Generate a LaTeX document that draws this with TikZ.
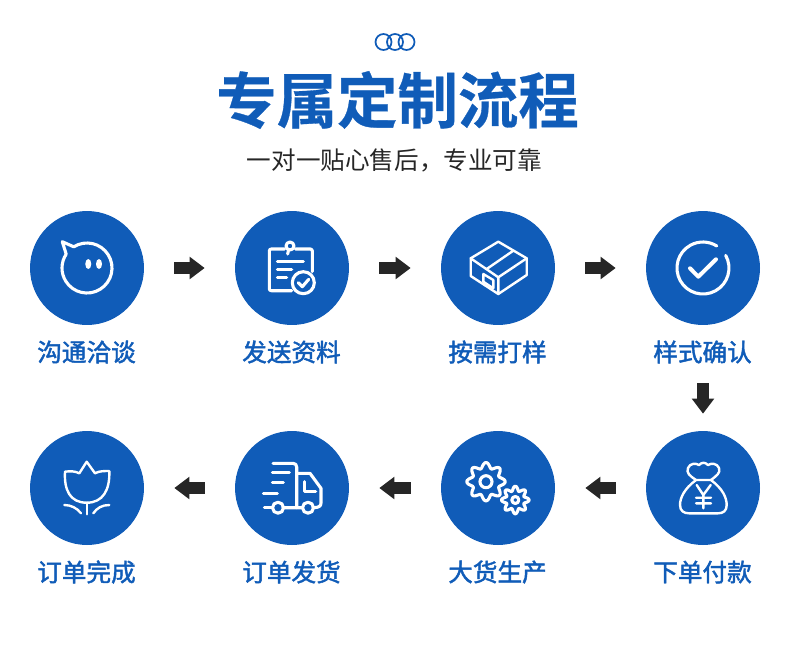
\documentclass[tikz,border=0pt]{standalone}
\usepackage{fontspec}
\usepackage{xcolor}
\usetikzlibrary{arrows.meta}
\setmainfont{Noto Sans CJK SC}
\newfontfamily\headfont[FakeBold=0.5]{Noto Sans CJK SC Bold}
\newfontfamily\labelfont[FakeBold=1.8]{Noto Sans CJK SC}
\definecolor{flowblue}{RGB}{16,92,184}
\definecolor{flowdark}{RGB}{38,38,38}

\begin{document}
\begin{tikzpicture}[
  x=0.02cm,y=-0.02cm,
  stepdisc/.style={circle,fill=flowblue,inner sep=0pt,minimum size=2.28cm},
  steplabel/.style={text=flowblue,font=\fontsize{14}{14}\selectfont\labelfont,inner sep=0pt},
  flowline/.style={draw=flowdark,line width=0.24cm,-{Triangle[length=0.3cm,width=0.43cm]},shorten <=0.6cm,shorten >=0.6cm},
  icon/.style={draw=white,line width=0.062cm,line cap=round,line join=round},
  thinicon/.style={icon,line width=0.048cm}
]
  \useasboundingbox (0,0) rectangle (790,656);

  \draw[draw=flowblue,line width=0.035cm] (383.5,42) circle (8) (395,42) circle (8) (406.5,42) circle (8);
  \node[text=flowblue,inner sep=0pt,font=\fontsize{34.4}{34}\selectfont\headfont] (title) at (397.5,100) {专属定制流程};
  \node[text=flowdark,inner sep=0pt,font=\fontsize{14}{14}\selectfont] (subtitle) at (394.5,160) {一对一贴心售后，专业可靠};

  \node[stepdisc] (s1) at (87,268) {};
  \node[stepdisc] (s2) at (292,268) {};
  \node[stepdisc] (s3) at (498,268) {};
  \node[stepdisc] (s4) at (703,268) {};
  \node[stepdisc] (s5) at (703,488) {};
  \node[stepdisc] (s6) at (498,488) {};
  \node[stepdisc] (s7) at (292,488) {};
  \node[stepdisc] (s8) at (87,488) {};

  \node[steplabel] (l1) at (86.5,352) {沟通洽谈};
  \node[steplabel] (l2) at (291.5,352) {发送资料};
  \node[steplabel] (l3) at (497.5,352) {按需打样};
  \node[steplabel] (l4) at (702.5,352) {样式确认};
  \node[steplabel] (l5) at (702.5,572) {下单付款};
  \node[steplabel] (l6) at (497.5,572) {大货生产};
  \node[steplabel] (l7) at (291.5,572) {订单发货};
  \node[steplabel] (l8) at (86.5,572) {订单完成};

  \draw[flowline] (s1) -- (s2);
  \draw[flowline] (s2) -- (s3);
  \draw[flowline] (s3) -- (s4);
  \draw[flowline,shorten <=1.16cm,shorten >=0.34cm] (s4) -- (s5);
  \draw[flowline] (s5) -- (s6);
  \draw[flowline] (s6) -- (s7);
  \draw[flowline] (s7) -- (s8);

  \draw[icon] (66.2,254.1) -- (62.3,241.7) -- (73.75,246.8) arc[start angle=-122,end angle=213.7,radius=25];
  \fill[white] (88.3,264) ellipse (3 and 5) (99,264) ellipse (3 and 5);

  \draw[icon,rounded corners=0.04cm] (284.5,249) -- (269.3,249) -- (269.3,290.7) -- (291.7,290.7);
  \draw[icon,rounded corners=0.04cm] (295.5,249) -- (312.3,249) -- (312.3,271.5);
  \draw[icon] (290,246) circle (4) (288.5,250) -- (287.7,254);
  \draw[icon] (277.3,261.7) -- (303.3,261.7) (277.3,269.3) -- (291.7,269.3) (277.3,277.3) -- (286.7,277.3);
  \draw[icon] (303.3,282.7) circle (11);
  \draw[icon] (298.3,282.7) -- (302.3,286.7) -- (308.7,279.3);

  \draw[thinicon] (498.3,241.7) -- (526.7,258.3) -- (526.7,275) -- (498.3,294) -- (470.7,276) -- (470.7,258.3) -- cycle;
  \draw[thinicon] (470.7,258.3) -- (498.3,277.3) -- (526.7,258.3) (498.3,277.3) -- (498.3,294);
  \draw[thinicon] (486.7,269) -- (513.3,250.7);
  \draw[thinicon] (483.3,274) -- (493.3,280) -- (493.3,288.3) -- (483.3,281.7) -- cycle;

  \draw[icon] (725.7,255.4) arc[start angle=-29,end angle=302,radius=26];
  \draw[icon,line width=0.08cm] (690,268.3) -- (698.3,276.7) -- (716,259.3);

  \draw[thinicon] (696,480) .. controls (684,489) and (680,498) .. (680,505) .. controls (680,511) and (684,513.3) .. (689,513.3) -- (718,513.3) .. controls (723,513.3) and (726.7,511) .. (726.7,505) .. controls (726.7,498) and (723,489) .. (711,480) -- cycle;
  \draw[thinicon] (696,480) .. controls (690,476) and (686,473) .. (688,468) .. controls (690,463) and (696,463) .. (699,465) .. controls (702,462) and (705,462) .. (708,465) .. controls (711,463) and (717,463) .. (719,468) .. controls (721,473) and (716,476) .. (711,480);
  \draw[thinicon] (696.7,485) -- (703.3,495) -- (710.7,485) (703.3,495) -- (703.3,508.3) (696,497.7) -- (711,497.7) (696,503.3) -- (711,503.3);

  \draw[icon] plot[domain=0:360,samples=97] ({486+(16.5+2.7*cos(8*\x))*cos(\x)},{481.7+(16.5+2.7*cos(8*\x))*sin(\x)});
  \draw[icon] (486,481.7) circle (6);
  \draw[icon,fill=flowblue] plot[domain=15:375,samples=97] ({515.3+(11.5+2.3*cos(8*\x))*cos(\x)},{500+(11.5+2.3*cos(8*\x))*sin(\x)});
  \draw[icon] (515.3,500) circle (3.5);

  \draw[icon] (273,463.3) -- (293,463.3) .. controls (295.5,463.3) and (296.7,465) .. (296.7,467) -- (296.7,507.7) -- (283,507.7);
  \draw[icon] (296.7,473.3) -- (310,473.3) -- (321,488.3) -- (321,503) .. controls (321,506) and (319,507.7) .. (313,507.7) (296.7,507.7) -- (301.7,507.7);
  \draw[icon] (304.3,481.7) -- (304.3,491.7) -- (315.7,491.7);
  \draw[icon] (272.3,472.3) -- (289.3,472.3) (272.3,482.3) -- (283.3,482.3) (263.3,493.3) -- (277.3,493.3) (264.3,507.7) -- (272,507.7);
  \draw[icon] (278,507.7) circle (5.5) (308,507.7) circle (5.5);

  \draw[thinicon] (86.7,461.7) -- (79.3,473.3) .. controls (75,471) and (70,471) .. (65,471.7) .. controls (64,490) and (70,502.7) .. (86.7,502.7) .. controls (103,502.7) and (110,490) .. (109.3,471) .. controls (104,471) and (99,471) .. (95,473.3) -- cycle;
  \draw[thinicon] (86.7,502.7) -- (86.7,514.3);
  \draw[thinicon] (64.3,505) .. controls (71,505) and (77,508) .. (81,513.3);
  \draw[thinicon] (109.3,505) .. controls (102,505) and (97,508) .. (93.3,513.3);
\end{tikzpicture}
\end{document}
